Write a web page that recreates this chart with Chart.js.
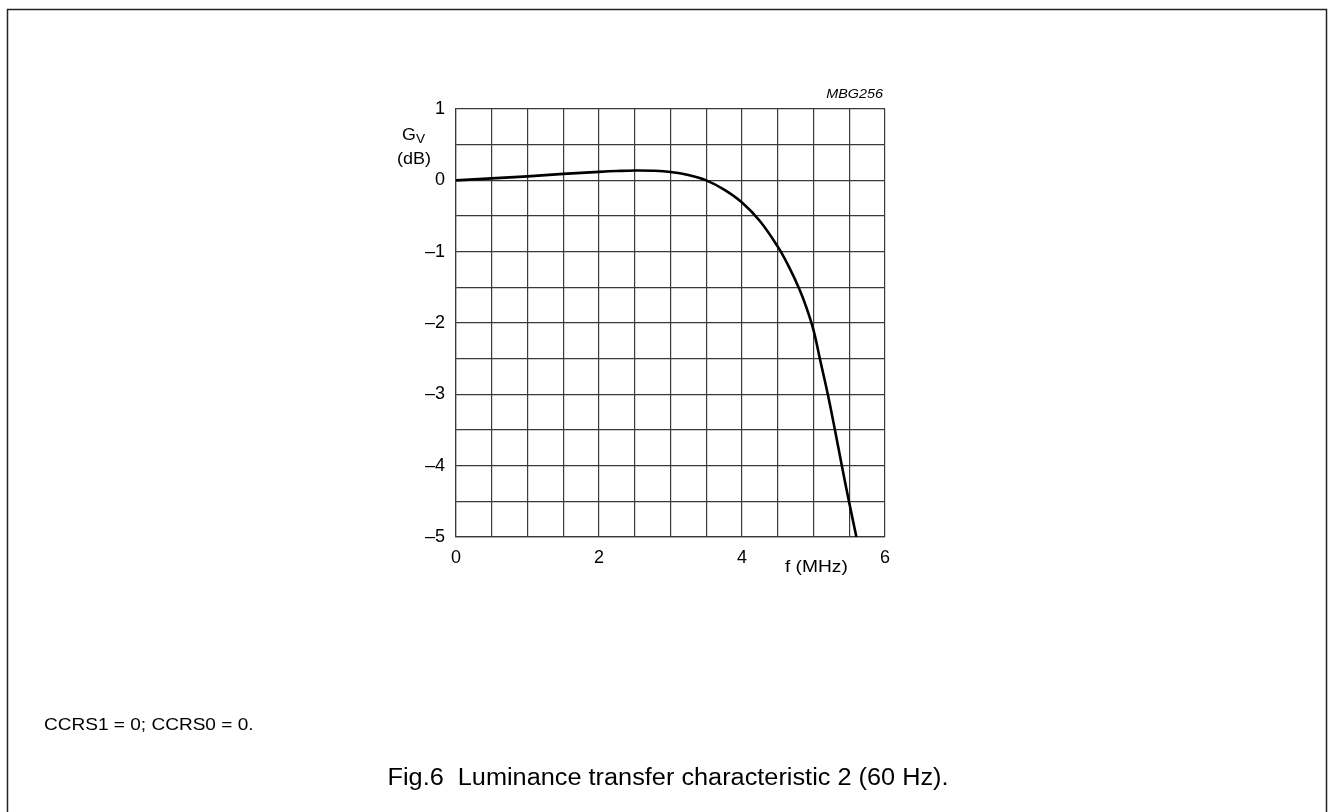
<!DOCTYPE html>
<html>
<head>
<meta charset="utf-8">
<script src="https://cdn.jsdelivr.net/npm/chart.js@4.4.0/dist/chart.umd.min.js"></script>
<style>
html,body{margin:0;padding:0;background:#fff;}
#wrap{position:relative;width:1329px;height:812px;}
canvas{display:block;}
</style>
</head>
<body>
<div id="wrap"><canvas id="c" width="1329" height="812"></canvas></div>
<script>
// Data
const freqMHz = [0, 0.5, 1, 1.5, 2, 2.25, 2.5, 2.75, 3, 3.25, 3.5, 3.75, 4, 4.25, 4.5, 4.65, 4.8, 4.9, 5.0, 5.1, 5.2, 5.3, 5.4, 5.5, 5.6];
const gainDb  = [0, 0.028, 0.056, 0.09, 0.118, 0.13, 0.138, 0.135, 0.118, 0.075, 0.0, -0.13, -0.31, -0.57, -0.93, -1.2, -1.52, -1.78, -2.1, -2.55, -3.0, -3.5, -4.02, -4.52, -5.0];
const xTickLabels = [0, 2, 4, 6];
const yTickLabels = [1, 0, -1, -2, -3, -4, -5];

const FONT = "'Liberation Sans', Arial, Helvetica, sans-serif";

function stretchedText(ctx, text, x, y, sx, align) {
  ctx.save();
  const w = ctx.measureText(text).width * sx;
  let left = x;
  if (align === 'center') left = x - w / 2;
  else if (align === 'right') left = x - w;
  ctx.translate(left, y);
  ctx.scale(sx, 1);
  ctx.textAlign = 'left';
  ctx.fillText(text, 0, 0);
  ctx.restore();
}

const annot = {
  id: 'annot',
  afterDraw(chart) {
    const ctx = chart.ctx;
    const a = chart.chartArea;
    ctx.save();
    // page frame
    ctx.strokeStyle = '#222';
    ctx.lineWidth = 1.5;
    ctx.beginPath();
    ctx.moveTo(7.5, 812);
    ctx.lineTo(7.5, 9.5);
    ctx.lineTo(1326.5, 9.5);
    ctx.lineTo(1326.5, 812);
    ctx.stroke();

    ctx.fillStyle = '#000';
    ctx.textBaseline = 'alphabetic';
    // MBG256
    ctx.font = 'italic 12px ' + FONT;
    stretchedText(ctx, 'MBG256', a.right - 2, a.top - 11, 1.2, 'right');
    // Gv (dB)
    ctx.font = '17px ' + FONT;
    stretchedText(ctx, 'G', a.left - 54, a.top + 31, 1.05, 'left');
    ctx.font = '13px ' + FONT;
    stretchedText(ctx, 'V', a.left - 40, a.top + 34, 1.05, 'left');
    ctx.font = '17px ' + FONT;
    stretchedText(ctx, '(dB)', a.left - 59, a.top + 55, 1.06, 'left');
    // f (MHz)
    const xs = chart.scales.x;
    stretchedText(ctx, 'f (MHz)', xs.getPixelForValue(4.6), a.bottom + 35, 1.13, 'left');
    // note
    stretchedText(ctx, 'CCRS1 = 0; CCRS0 = 0.', 44, 730, 1.12, 'left');
    // caption
    ctx.font = '23px ' + FONT;
    stretchedText(ctx, 'Fig.6  Luminance transfer characteristic 2 (60 Hz).', 668, 785, 1.1, 'center');
    ctx.restore();
  }
};

new Chart(document.getElementById('c'), {
  type: 'line',
  data: {
    datasets: [{
      data: freqMHz.map((f, i) => ({x: f, y: gainDb[i]})),
      borderColor: '#000',
      borderWidth: 2.6,
      pointRadius: 0,
      fill: false,
      tension: 0.4
    }]
  },
  options: {
    responsive: false,
    animation: false,
    layout: {padding: {left: 0, top: 109, right: 444, bottom: 0}},
    plugins: {legend: {display: false}, tooltip: {enabled: false}},
    scales: {
      x: {
        type: 'linear', min: 0, max: 6,
        afterFit(s) { s.height = 275; },
        grid: {color: '#3a3a3a', lineWidth: 1.2, drawTicks: false},
        border: {color: '#3a3a3a', width: 1.2},
        ticks: {
          stepSize: 0.5, padding: 10, maxRotation: 0, autoSkip: false,
          color: '#000', font: {family: FONT, size: 18},
          callback: v => xTickLabels.includes(v) ? String(v) : ''
        }
      },
      y: {
        type: 'linear', min: -5, max: 1,
        afterFit(s) { s.width = 456; },
        grid: {color: '#3a3a3a', lineWidth: 1.2, drawTicks: false},
        border: {color: '#3a3a3a', width: 1.2},
        ticks: {
          stepSize: 0.5, padding: 11, autoSkip: false,
          color: '#000', font: {family: FONT, size: 18},
          callback: v => yTickLabels.includes(v) ? (v < 0 ? '\u2013' + Math.abs(v) : String(v)) : ''
        }
      }
    }
  },
  plugins: [annot]
});
</script>
</body>
</html>
